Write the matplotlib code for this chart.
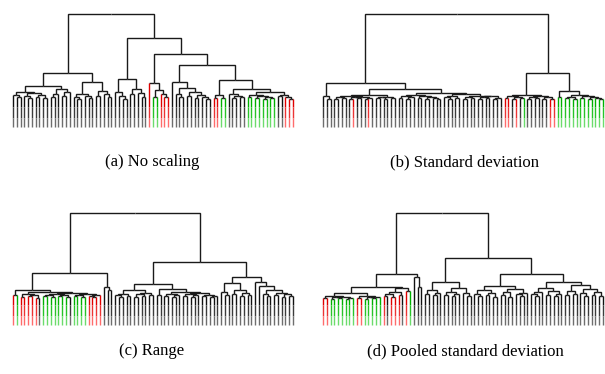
import matplotlib
matplotlib.use("Agg")
import matplotlib.pyplot as plt
from matplotlib.collections import LineCollection

# ---- data: leaf colours (in display order) and merge heights between adjacent leaves ----
COLORS_A = "k" * 36 + "r" + "gg" + "rrr" + "k" * 11 + "rr" + "gg" + "k" * 5 + "g" * 8 + "kk" + "rrr"
GAPS_A = [32, 30, 35, 31, 29, 34, 30, 32, 29, 41, 30, 33, 38, 31, 35, 54, 30, 28, 33, 31,
          29, 45, 31, 36, 33, 30, 113, 35, 31, 28, 48, 33, 38, 34, 30, 89, 44, 30, 37, 33,
          30, 73, 45, 33, 30, 39, 31, 35, 29, 32, 30, 28, 62, 29, 32, 29, 47, 33, 29, 31,
          30, 38, 30, 32, 29, 31, 28, 30, 29, 35, 31, 32, 30, 28]

COLORS_B = "k" * 8 + "r" + "k" * 3 + "r" + "k" * 35 + "rrkrkg" + "k" * 6 + "rr" + "g" * 13
GAPS_B = [31, 28, 44, 28, 30, 29, 31, 28, 30, 29, 30.5, 28.5, 29.5, 32, 29, 30, 28, 30.5, 29, 38,
          29, 31, 28, 30, 32.5, 29, 31, 28, 30, 29.5, 28, 34, 30, 28, 31, 29, 33, 28.5, 30, 29,
          31.5, 28, 30, 29, 31, 28, 29.5, 113, 29, 31, 28, 30, 29, 32, 28, 30, 29, 31, 28.5, 30,
          28, 54, 30, 36, 29, 30.5, 28, 32, 29, 31, 28, 30, 29, 28.5]

COLORS_C = "rgrrrrrkgggggggkggggrrrr" + "k" * 51
GAPS_C = [30, 35, 28, 31, 29, 30, 27.5, 33, 29, 30.5, 28, 31.5, 29, 30, 28.5, 32, 29, 30, 28, 31,
          29.5, 28, 30, 52, 38, 35, 112, 30, 28, 31, 29, 35, 28.5, 31, 29, 32, 30, 41, 30, 36,
          29, 31, 28, 30, 33.5, 29, 31, 28.5, 30, 32, 29, 30.5, 28, 29.5, 63, 33, 30, 42, 31, 35,
          29, 32, 30, 48, 43, 39, 31, 29, 35, 30, 32, 28, 31, 29]

COLORS_D = "rr" + "g" * 7 + "rr" + "g" * 5 + "rkrrrkrg" + "k" * 51
GAPS_D = [27, 29.5, 26.5, 28, 27, 28.5, 26, 27.5, 32, 27, 29, 26.5, 28, 27, 28.5, 38, 29, 31, 28, 33,
          30, 37, 34, 51, 48, 38, 112, 31, 35, 30, 32, 43, 30, 33, 29, 31, 37, 32, 29.5, 67,
          31, 29, 35, 30, 32, 28.5, 39, 30, 33, 28, 36, 31, 29, 32, 51, 31, 29, 33, 37, 30,
          34, 29, 31.5, 43, 30, 34, 31, 40, 32, 29, 36, 30.5, 33, 29]

CAPTIONS = ["(a) No scaling", "(b) Standard deviation", "(c) Range", "(d) Pooled standard deviation"]

# full / mid / faded shade of each leaf colour (the leaves fade towards the baseline)
SHADES = {"k": ("#111111", "#3c3c3c", "#6e6e6e"),
          "r": ("#e00000", "#ec3434", "#ff6c6c"),
          "g": ("#00b000", "#28c428", "#6cdc6c")}
EDGE = "#1a1a1a"

W, H = 605, 374
fig = plt.figure(figsize=(W / 100, H / 100), dpi=100)


def build(lo, hi, gaps, colors, segs, cols):
    """Return (x, height) of the subtree of leaves lo..hi; append its edges."""
    if lo == hi:
        return lo, 0.0
    seg = gaps[lo:hi]
    m = max(seg)
    cuts = [lo + k for k, g in enumerate(seg) if g == m]
    bounds = [lo] + [c + 1 for c in cuts]
    ends = cuts + [hi]
    kids = []
    for a, b in zip(bounds, ends):
        cx, ch = build(a, b, gaps, colors, segs, cols)
        kids.append((cx, ch, a == b, a))
    x = (kids[0][0] + kids[-1][0]) / 2.0
    for cx, ch, is_leaf, idx in kids:
        if is_leaf:
            full, mid, light = SHADES[colors[idx]]
            segs.append([(x, m), (cx, m)])
            cols.append(EDGE)
            segs.append([(cx, m), (cx, 20)])
            cols.append(full)
            segs.append([(cx, 20), (cx, 9)])
            cols.append(mid)
            segs.append([(cx, 9), (cx, 0)])
            cols.append(light)
        else:
            segs.append([(x, m), (cx, m), (cx, ch)])
            cols.append(EDGE)
    return x, m


def panel(gaps, colors, x0, x1, ybot, ytop):
    top = max(gaps)
    ax = fig.add_axes([x0 / W, 1 - ybot / H, (x1 - x0) / W, (ybot - ytop) / H])
    ax.set_xlim(0, len(colors) - 1)
    ax.set_ylim(0, top)
    ax.axis("off")
    segs, cols = [], []
    build(0, len(colors) - 1, gaps, colors, segs, cols)
    lc = LineCollection(segs, colors=cols, linewidths=1.0, clip_on=False,
                        joinstyle="miter", capstyle="butt")
    ax.add_collection(lc)
    return ax


panel(GAPS_A, COLORS_A, 13, 293, 127, 14)
panel(GAPS_B, COLORS_B, 323, 603, 127, 14)
panel(GAPS_C, COLORS_C, 13, 293, 325, 213)
panel(GAPS_D, COLORS_D, 323, 603, 325, 213)

cap_pos = [(152, 162), (464, 162), (152, 351), (465, 351)]
for txt, (cx, cy) in zip(CAPTIONS, cap_pos):
    fig.text(cx / W, 1 - cy / H, txt, ha="center", va="center", fontsize=12,
             family="Liberation Serif")

fig.savefig("out.png", dpi=100)
